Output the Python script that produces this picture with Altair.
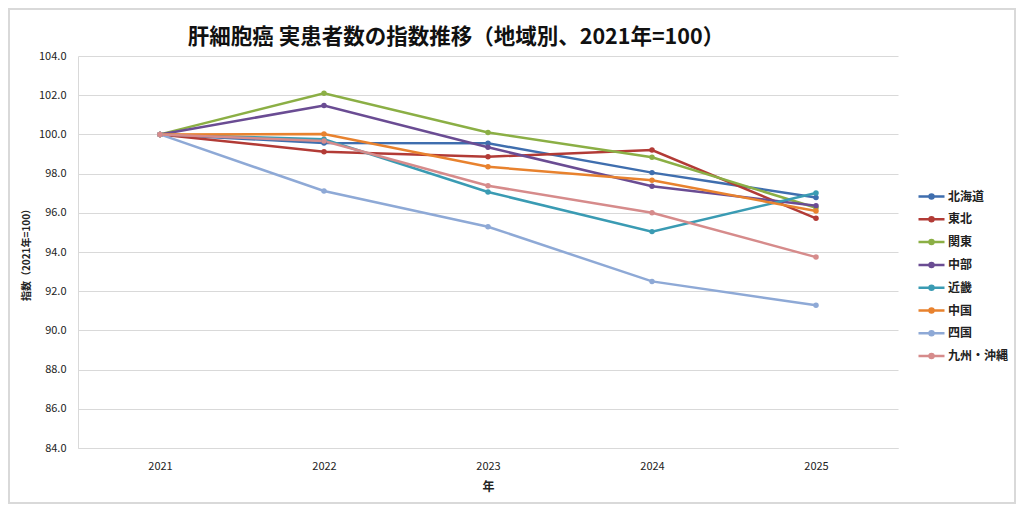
import altair as alt
import pandas as pd

years = ["2021", "2022", "2023", "2024", "2025"]
regions = ["北海道", "東北", "関東", "中部", "近畿", "中国", "四国", "九州・沖縄"]
hokkaido = [100.0, 99.56, 99.55, 98.05, 96.78]
tohoku = [100.0, 99.12, 98.86, 99.20, 95.72]
kanto = [100.0, 102.10, 100.10, 98.83, 96.26]
chubu = [100.0, 101.47, 99.34, 97.35, 96.36]
kinki = [100.0, 99.75, 97.06, 95.04, 97.01]
chugoku = [100.0, 100.02, 98.35, 97.66, 96.09]
shikoku = [100.0, 97.11, 95.29, 92.50, 91.28]
kyushu = [100.0, 99.66, 97.38, 96.00, 93.74]
colors = ["#3F6EAE", "#B23B36", "#8BAF45", "#6A4C93", "#3A9BB3", "#E8822E", "#8EA9D6", "#D68B8B"]

series = [hokkaido, tohoku, kanto, chubu, kinki, chugoku, shikoku, kyushu]
rows = []
for r, vals in zip(regions, series):
    for y, v in zip(years, vals):
        rows.append({"年": y, "地域": r, "指数": v})
df = pd.DataFrame(rows)

FONT = "Noto Sans CJK JP"

lines = alt.Chart(df).mark_line(
    strokeWidth=2.5,
    point=alt.OverlayMarkDef(filled=True, size=30),
).encode(
    x=alt.X("年:O", scale=alt.Scale(type="point", padding=0.5),
            axis=alt.Axis(title="年", labelAngle=0, tickSize=0, labelPadding=12,
                          titlePadding=10, domainColor="#D9D9D9", grid=False,
                          labelFontSize=11, titleFontSize=12, titleFontWeight="bold")),
    y=alt.Y("指数:Q", scale=alt.Scale(domain=[84, 104], nice=False, zero=False),
            axis=alt.Axis(title="指数（2021年=100）", format=".1f", values=list(range(84, 105, 2)),
                          tickSize=0, labelPadding=12, domainColor="#D9D9D9",
                          gridColor="#D9D9D9", labelFontSize=11, titleFontSize=10,
                          titleFontWeight="bold", titleX=-52, titleY=196, titleAngle=270,
                          titleAlign="center", titleBaseline="middle")),
    color=alt.Color("地域:N", sort=regions,
                    scale=alt.Scale(domain=regions, range=colors),
                    legend=alt.Legend(title=None, orient="none", legendX=842, legendY=129,
                                      symbolType="M-1.3,0H1.3M-0.2,0A0.2,0.2 0 1,1 0.2,0A0.2,0.2 0 1,1 -0.2,0",
                                      symbolSize=400, symbolStrokeWidth=2.5, labelOffset=5,
                                      rowPadding=3.8, labelFontSize=12, labelFontWeight="bold",
                                      labelColor="#222222", padding=0)),
)

frame = alt.Chart(alt.Data(values=[{}])).mark_rect(
    fill="transparent", stroke="#D9D9D9", strokeWidth=2
).encode(
    x=alt.value(-69), x2=alt.value(937), y=alt.value(-47), y2=alt.value(447)
)

chart = alt.layer(frame, lines).properties(
    width=820,
    height=392,
    title=alt.TitleParams("肝細胞癌 実患者数の指数推移（地域別、2021年=100）", fontSize=21.5,
                          fontWeight="bold", font=FONT, anchor="middle", dx=-32, offset=8,
                          dy=48, color="#111111"),
    autosize=alt.AutoSizeParams(type="none"),
    padding={"left": 70, "top": 48, "right": 118, "bottom": 56},
).configure(font=FONT).configure_view(stroke=None).configure_axis(
    labelFont=FONT, titleFont=FONT, labelColor="#222222", titleColor="#222222"
).configure_legend(labelFont=FONT)

chart.save("out.html", embed_options={"renderer": "svg", "actions": False})
